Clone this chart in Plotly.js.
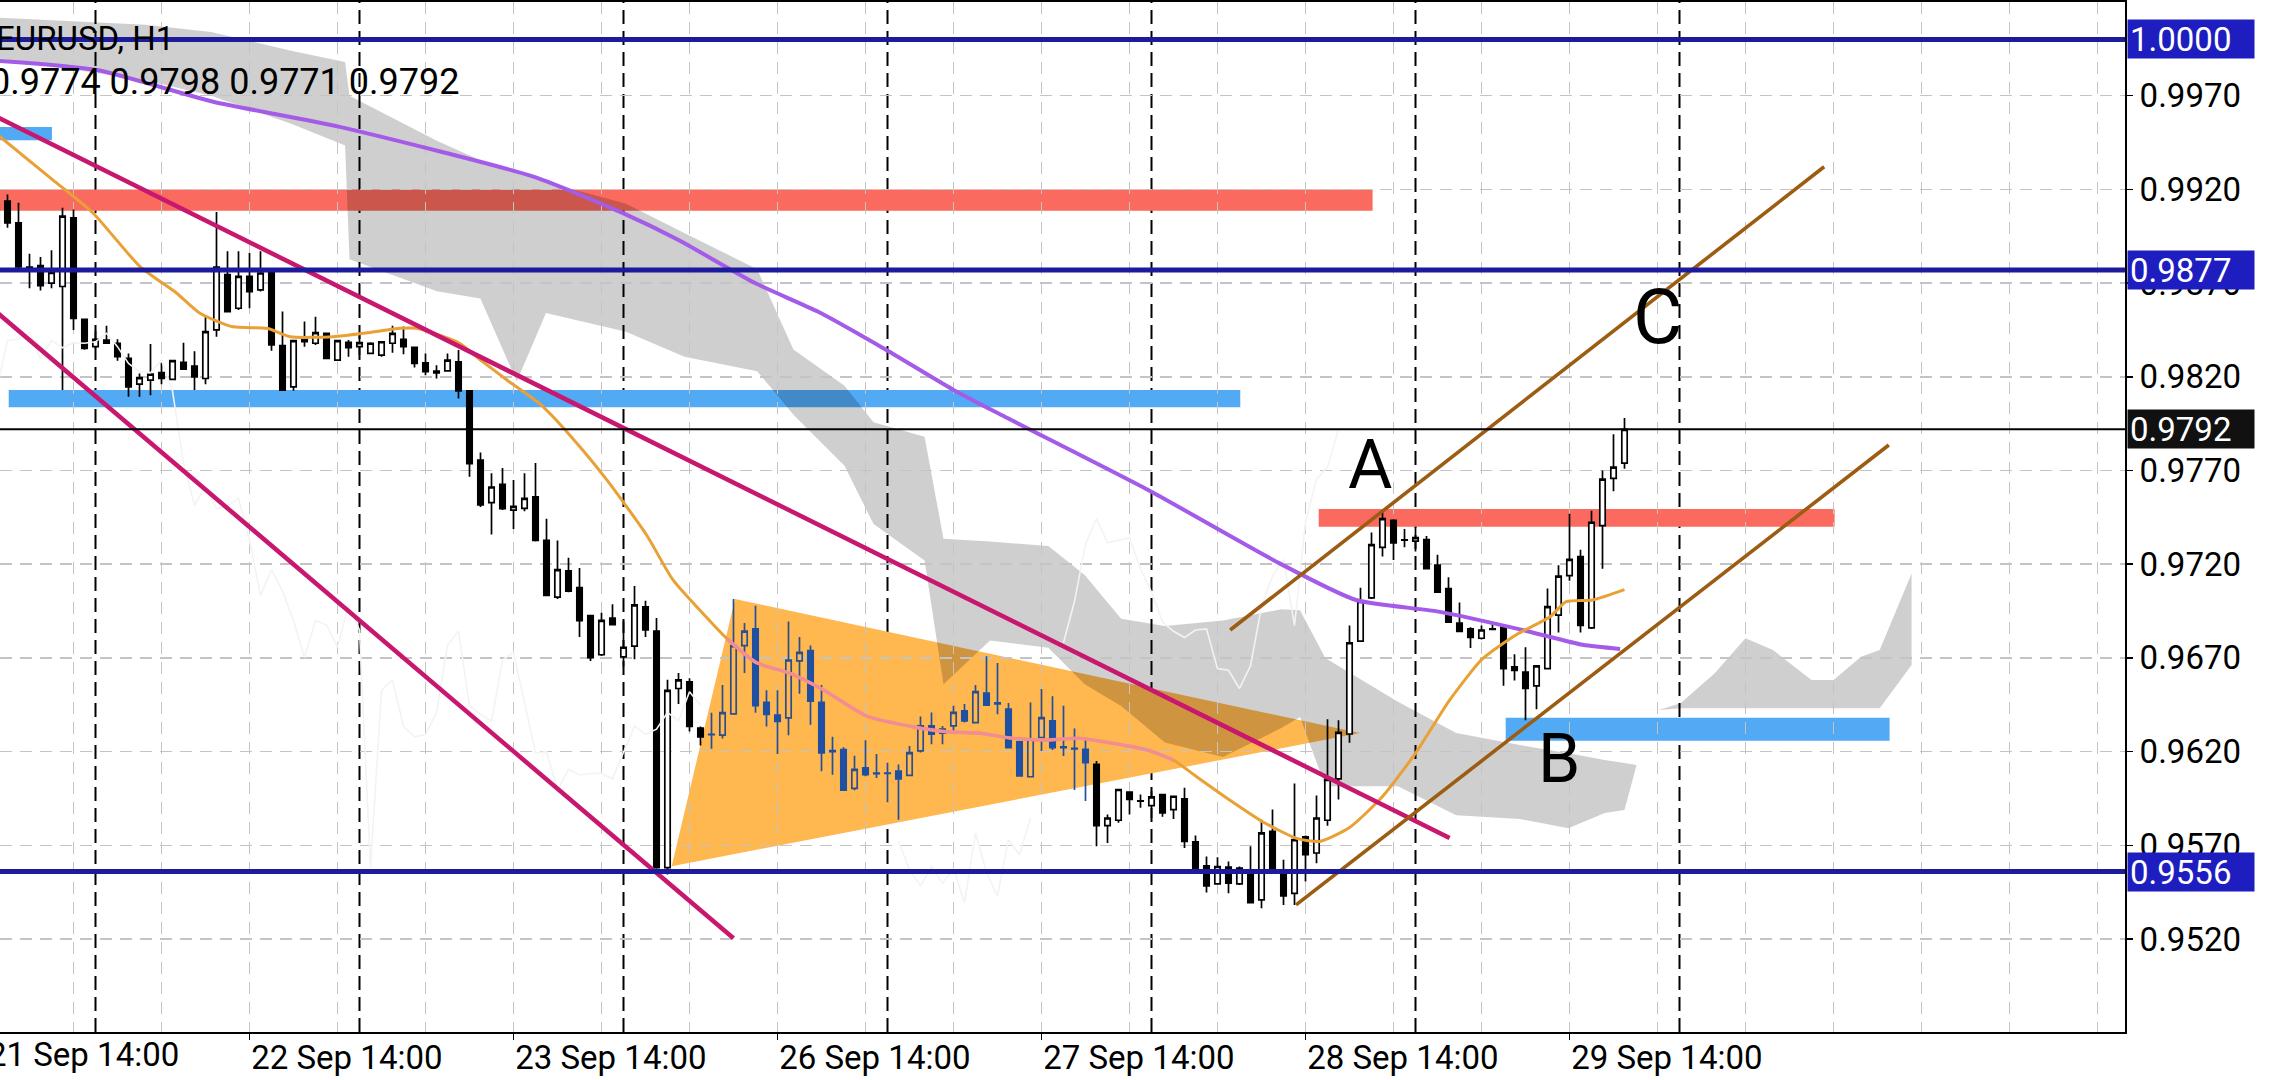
<!DOCTYPE html>
<html>
<head>
<meta charset="utf-8">
<script src="https://cdn.plot.ly/plotly-3.0.1.min.js"></script>
<style>
html, body { margin:0; padding:0; background:#ffffff; overflow:hidden; }
#chart { width:2283px; height:1080px; }
</style>
</head>
<body>
<div id="chart"></div>
<script>
// ------------------------------------------------------------------ data
const symbolTitle = 'EURUSD, H1';
const ohlcText = '0.9774 0.9798 0.9771 0.9792';
const firstBar = -9;   // bar index of first candle (bar 0 = 22 Sep 00:00, hourly bars)
const chikouShift = 26; // lagging span is drawn this many bars back

const open = [
0.99129,0.99138,0.99021,0.98786,0.98793,0.98700,0.98682,0.99048,0.98507,
0.98361,0.98396,0.98379,0.98298,0.98161,0.98182,0.98223,0.98186,0.98277,0.98257,
0.98191,0.98450,0.98745,0.98566,0.98736,0.98664,0.98768,0.98366,0.98146,0.98387,
0.98379,0.98432,0.98289,0.98384,0.98361,0.98325,0.98316,0.98379,0.98400,0.98357,
0.98275,0.98230,0.98232,0.98280,0.98125,0.97755,0.97529,0.97626,0.97489,0.97498,
0.97560,0.97327,0.97024,0.97165,0.97075,0.96926,0.96717,0.96913,0.96706,0.96763,
0.96972,0.96843,0.95581,0.96537,0.96573,0.96325,0.96292,0.96288,0.96402,0.96766,
0.96855,0.96463,0.96395,0.96380,0.96684,0.96739,0.96463,0.96206,0.96211,0.96004,
0.96114,0.96086,0.96086,0.96096,0.96073,0.96204,0.96337,0.96298,0.96337,0.96418,
0.96355,0.96512,0.96460,0.96427,0.96252,0.96066,0.96275,0.96364,0.96225,0.96218,
0.96212,0.96132,0.95805,0.95834,0.95984,0.95938,0.95912,0.95971,0.95891,0.95948,
0.95718,0.95591,0.95494,0.95584,0.95494,0.95569,0.95409,0.95775,0.95569,0.95444,
0.95745,0.95659,0.95834,0.96055,0.96294,0.96790,0.97020,0.97290,0.97434,0.97330,
0.97323,0.97332,0.97195,0.97070,0.96886,0.96855,0.96805,0.96852,0.96864,0.96652,
0.96625,0.96551,0.96643,0.96928,0.97139,0.97241,0.96860,0.97406,0.97658,0.9774];
const high = [
0.99160,0.99173,0.99129,0.98857,0.98839,0.98875,0.99102,0.99093,0.98510,
0.98446,0.98473,0.98400,0.98325,0.98218,0.98375,0.98275,0.98289,0.98382,0.98337,
0.98530,0.99080,0.98870,0.98870,0.98861,0.98870,0.98775,0.98548,0.98396,0.98495,
0.98521,0.98436,0.98396,0.98396,0.98423,0.98384,0.98387,0.98473,0.98468,0.98361,
0.98325,0.98262,0.98325,0.98343,0.98130,0.97796,0.97685,0.97713,0.97649,0.97685,
0.97740,0.97443,0.97327,0.97235,0.97180,0.96930,0.96941,0.96987,0.96895,0.97084,
0.97005,0.96913,0.96583,0.96619,0.96592,0.96334,0.96408,0.96555,0.97014,0.96886,
0.96978,0.96527,0.96527,0.96895,0.96812,0.96766,0.96555,0.96279,0.96224,0.96178,
0.96261,0.96187,0.96141,0.96132,0.96230,0.96387,0.96409,0.96337,0.96445,0.96454,
0.96555,0.96709,0.96673,0.96459,0.96258,0.96462,0.96534,0.96495,0.96445,0.96323,
0.96262,0.96150,0.95864,0.96002,0.95989,0.95971,0.95989,0.95975,0.95966,0.96007,
0.95752,0.95641,0.95637,0.95614,0.95587,0.95695,0.95837,0.95891,0.95623,0.96030,
0.95752,0.95966,0.96373,0.96367,0.96873,0.97075,0.97369,0.97479,0.97440,0.97388,
0.97397,0.97351,0.97250,0.97130,0.96996,0.96864,0.96873,0.96891,0.96868,0.96720,
0.96757,0.96662,0.97070,0.97195,0.97470,0.97277,0.97485,0.97700,0.97893,0.9798];
const low = [
0.98985,0.98995,0.98780,0.98673,0.98661,0.98673,0.98129,0.98450,0.98345,
0.98352,0.98379,0.98286,0.98093,0.98093,0.98102,0.98161,0.98182,0.98241,0.98129,
0.98161,0.98414,0.98548,0.98557,0.98566,0.98655,0.98339,0.98125,0.98125,0.98361,
0.98370,0.98298,0.98289,0.98307,0.98316,0.98321,0.98307,0.98329,0.98321,0.98250,
0.98209,0.98191,0.98227,0.98084,0.97667,0.97505,0.97358,0.97490,0.97388,0.97483,
0.97321,0.97030,0.97014,0.97050,0.96812,0.96684,0.96710,0.96873,0.96656,0.96693,
0.96812,0.95575,0.95544,0.96454,0.96307,0.96233,0.96215,0.96270,0.96400,0.96619,
0.96408,0.96334,0.96187,0.96288,0.96509,0.96344,0.96095,0.96077,0.95990,0.95994,
0.96068,0.96059,0.95930,0.95837,0.96070,0.96195,0.96239,0.96239,0.96311,0.96355,
0.96352,0.96448,0.96400,0.96221,0.96070,0.96066,0.96204,0.96209,0.96177,0.95995,
0.95936,0.95695,0.95712,0.95820,0.95864,0.95900,0.95846,0.95852,0.95841,0.95686,
0.95565,0.95448,0.95490,0.95444,0.95489,0.95390,0.95364,0.95552,0.95382,0.95382,
0.95507,0.95605,0.95805,0.95945,0.96248,0.96790,0.97014,0.97241,0.97222,0.97290,
0.97268,0.97176,0.97051,0.96891,0.96842,0.96753,0.96799,0.96848,0.96551,0.96579,
0.96367,0.96426,0.96643,0.96836,0.97112,0.96836,0.96855,0.97176,0.97590,0.9771];
const close = [
0.99000,0.99021,0.98786,0.98780,0.98686,0.98757,0.99057,0.98512,0.98352,
0.98400,0.98379,0.98307,0.98146,0.98196,0.98214,0.98191,0.98286,0.98241,0.98200,
0.98441,0.98786,0.98548,0.98736,0.98655,0.98754,0.98370,0.98129,0.98393,0.98400,
0.98436,0.98298,0.98393,0.98355,0.98382,0.98379,0.98387,0.98432,0.98361,0.98271,
0.98227,0.98221,0.98289,0.98125,0.97737,0.97516,0.97612,0.97496,0.97509,0.97551,
0.97327,0.97033,0.97171,0.97057,0.96899,0.96702,0.96900,0.96877,0.96757,0.96983,
0.96849,0.95581,0.96527,0.96583,0.96334,0.96279,0.96290,0.96408,0.96766,0.96843,
0.96445,0.96399,0.96362,0.96689,0.96730,0.96469,0.96193,0.96200,0.95994,0.96105,
0.96077,0.96083,0.96084,0.96055,0.96195,0.96337,0.96293,0.96320,0.96409,0.96364,
0.96520,0.96448,0.96455,0.96221,0.96070,0.96266,0.96382,0.96221,0.96221,0.96214,
0.96141,0.95805,0.95846,0.95998,0.95945,0.95936,0.95959,0.95873,0.95962,0.95721,
0.95569,0.95484,0.95587,0.95498,0.95578,0.95394,0.95766,0.95555,0.95430,0.95730,
0.95650,0.95846,0.96052,0.96303,0.96781,0.97002,0.97305,0.97443,0.97314,0.97328,
0.97342,0.97176,0.97051,0.96891,0.96842,0.96809,0.96849,0.96855,0.96643,0.96634,
0.96537,0.96658,0.96974,0.97136,0.97226,0.96873,0.97424,0.97654,0.97718,0.9792];

// slow moving average (purple)
const maSlowBar = [-9,0.14,10.7,22.1,39.8,48.0,53.0,60.0,65.7,71.9,78.0,82.9,95.7,107.6,114.6,122.1,130.1,135.2,138.6];
const maSlowVal = [0.99887,0.99837,0.99668,0.99535,0.99268,0.99072,0.98930,0.98699,0.98547,0.98343,0.98130,0.97980,0.97596,0.97206,0.97009,0.96947,0.96844,0.96770,0.96748];
// fast moving average (orange)
const maFastBar = [-9,-3.86,-0.23,4.05,7.38,9.5,12.5,15.6,17.7,21.6,24.7,27.7,29.2,33.1,35.0,37.4,40.4,43.4,46.5,50.1,52.5,55.6,57.4,60.1,63.1,66.2,70.1,74.3,77.4,80.4,83.4,86.5,89.5,92.5,95.6,98.0,100.1,103.1,106.1,109.2,111.3,114.0,117.0,120.1,123.1,126.1,129.2,132.2,133.7,136.1,139.0];
const maFastVal = [0.99496,0.99250,0.99074,0.98788,0.98646,0.98539,0.98467,0.98459,0.98414,0.98414,0.98435,0.98459,0.98459,0.98379,0.98290,0.98183,0.98055,0.97870,0.97649,0.97356,0.97116,0.96913,0.96803,0.96674,0.96619,0.96529,0.96390,0.96333,0.96306,0.96298,0.96271,0.96262,0.96271,0.96244,0.96209,0.96155,0.96066,0.95942,0.95826,0.95737,0.95721,0.95795,0.95960,0.96200,0.96475,0.96696,0.96825,0.96918,0.97000,0.97009,0.97064];

// ichimoku cloud (upper / lower edge)
const cloudBar   = [-9,4.55,10.51,17.79,22.69,23.09,31.03,34.99,38.30,40.95,48.23,53.53,60.15,63.45,68.09,70.73,75.37,77.09,81.32,86.62,89.93,93.24,97.21,102.5,107.8,109.5,111.8,118.4,123.7,129.5,133.9,137.2,139.0,140.1,142.1,144.1,147.2,150.0,152.5,156.0,158.0,160.5,162.2,165.1];
const cloudUpper = [1.00117,1.00079,1.00040,0.99940,0.99880,0.99700,0.99460,0.99356,0.99294,0.99240,0.99123,0.98968,0.98774,0.98346,0.98152,0.97958,0.97880,0.97336,0.97321,0.97297,0.97142,0.96909,0.96870,0.96900,0.96960,0.96954,0.96700,0.96466,0.96300,0.96235,0.96192,0.96155,0.96140,0.96129,0.96422,0.96458,0.96618,0.96805,0.96742,0.96582,0.96582,0.96706,0.96742,0.97151];
const cloudLower = [0.99900,0.99783,0.99700,0.99550,0.99434,0.98828,0.98657,0.98618,0.98175,0.98541,0.98440,0.98307,0.98230,0.97997,0.97725,0.97414,0.97220,0.96559,0.96793,0.96754,0.96559,0.96443,0.96249,0.96171,0.96326,0.96385,0.96015,0.96015,0.95860,0.95840,0.95791,0.95873,0.95889,0.96129,0.96422,0.96431,0.96431,0.96431,0.96431,0.96431,0.96431,0.96431,0.96431,0.96662];

// horizontal zones
const redZoneStart = [-10, 111.2];
const redZoneEnd   = [116.1, 158.1];
const redZoneLow   = [0.99086, 0.97400];
const redZoneHigh  = [0.99200, 0.97495];
const blueZoneStart = [-10, -7.89, 128.2];
const blueZoneEnd   = [-3.96, 104.07, 163.1];
const blueZoneLow   = [0.99462, 0.98037, 0.96258];
const blueZoneHigh  = [0.99533, 0.98130, 0.96381];

// triangle
const triangleBar = [52.38, 58.14, 114.95];
const trianglePrice = [0.95589, 0.97014, 0.96299];

// trend lines (start bar, start price, end bar, end price)
const magentaStartBar = [-10, -10];
const magentaStartPrice = [0.99617, 0.98596];
const magentaEndBar = [123.1, 58.0];
const magentaEndPrice = [0.95739, 0.95204];
const channelStartBar = [103.15, 109.14];
const channelStartPrice = [0.96849, 0.95382];
const channelEndBar = [157.15, 163.03];
const channelEndPrice = [0.99321, 0.97836];

// horizontal levels
const levelPrices = [1.0000, 0.9877, 0.9556];
const lastPrice = 0.9792;

// wave labels
const waveText = ['A', 'B', 'C'];
const waveBar = [115.9, 133.0, 142.0];
const wavePrice = [0.97729, 0.96161, 0.98521];
const waveSize = [68, 68, 76];

// axes
const priceTicks = [0.9520,0.9570,0.9620,0.9670,0.9720,0.9770,0.9820,0.9870,0.9920,0.9970];
const timeTickBar = [-10, 14, 38, 62, 86, 110, 134];
const timeTickText = ['21 Sep 14:00','22 Sep 14:00','23 Sep 14:00','26 Sep 14:00','27 Sep 14:00','28 Sep 14:00','29 Sep 14:00'];
const daySeparatorBar = [0, 24, 48, 72, 96, 120, 144];

// ------------------------------------------------------------------ styling
const FONT = 'Roboto, "Open Sans", sans-serif';
const xRange = [-8.682, 184.5];
const yRange = [0.94704, 1.00200];
const NAVY = '#1B1B9C', NAVYBOX = '#1E1EC0';

const bars = open.map((_, k) => firstBar + k);

function cross(ax, ay, bx, by, cx, cy) { return (bx - ax) * (cy - ay) - (by - ay) * (cx - ax); }
function inTriangle(px, py) {
  const [x0, x1, x2] = triangleBar, [y0, y1, y2] = trianglePrice;
  const s = 10000;
  const d1 = cross(x0, y0*s, x1, y1*s, px, py*s);
  const d2 = cross(x1, y1*s, x2, y2*s, px, py*s);
  const d3 = cross(x2, y2*s, x0, y0*s, px, py*s);
  const neg = d1 < 0 || d2 < 0 || d3 < 0, pos = d1 > 0 || d2 > 0 || d3 > 0;
  return !(neg && pos);
}
const inside = bars.map((b, k) => inTriangle(b, (open[k] + close[k]) / 2));
const sel = (arr, flag) => arr.filter((_, k) => inside[k] === flag);

const traces = [];
traces.push({
  type: 'candlestick', x: sel(bars, false), open: sel(open, false), high: sel(high, false),
  low: sel(low, false), close: sel(close, false), whiskerwidth: 0, hoverinfo: 'skip', showlegend: false,
  increasing: { line: { color: '#000000', width: 1.7 }, fillcolor: '#ffffff' },
  decreasing: { line: { color: '#000000', width: 1.7 }, fillcolor: '#000000' }
});
traces.push({
  type: 'candlestick', x: sel(bars, true), open: sel(open, true), high: sel(high, true),
  low: sel(low, true), close: sel(close, true), whiskerwidth: 0, hoverinfo: 'skip', showlegend: false,
  increasing: { line: { color: '#2B4E8C', width: 1.7 }, fillcolor: 'rgba(0,0,0,0)' },
  decreasing: { line: { color: '#1F50A2', width: 1.7 }, fillcolor: '#1F50A2' }
});

// lagging span (white; hidden where it runs under the triangle object)
const chikouX = bars.map(b => b - chikouShift);
const chikouY = close.map((c, k) => inTriangle(chikouX[k], c) ? null : c);
traces.push({ type: 'scatter', mode: 'lines', x: chikouX, y: chikouY, connectgaps: false, line: { color: '#F3F3F3', width: 1.6 }, hoverinfo: 'skip', showlegend: false });

// moving averages
traces.push({ type: 'scatter', mode: 'lines', x: maSlowBar, y: maSlowVal, line: { color: '#A35BE8', width: 4, shape: 'spline', smoothing: 0.6 }, hoverinfo: 'skip', showlegend: false });
traces.push({ type: 'scatter', mode: 'lines', x: maFastBar, y: maFastVal, line: { color: '#E9A035', width: 3, shape: 'spline', smoothing: 0.6 }, hoverinfo: 'skip', showlegend: false });
const pinkIdx = maFastBar.map((b, k) => k).filter(k => inTriangle(maFastBar[k], maFastVal[k]));
traces.push({ type: 'scatter', mode: 'lines', x: pinkIdx.map(k => maFastBar[k]), y: pinkIdx.map(k => maFastVal[k]), line: { color: '#F28C96', width: 3.4, shape: 'spline', smoothing: 0.6 }, hoverinfo: 'skip', showlegend: false });

// trend lines
magentaStartBar.forEach((b, k) => traces.push({ type: 'scatter', mode: 'lines', x: [b, magentaEndBar[k]], y: [magentaStartPrice[k], magentaEndPrice[k]], line: { color: '#C8176F', width: 4.5 }, hoverinfo: 'skip', showlegend: false }));
channelStartBar.forEach((b, k) => traces.push({ type: 'scatter', mode: 'lines', x: [b, channelEndBar[k]], y: [channelStartPrice[k], channelEndPrice[k]], line: { color: '#9C5C12', width: 3.6 }, hoverinfo: 'skip', showlegend: false }));

// ------------------------------------------------------------------ shapes
const shapes = [];
redZoneStart.forEach((x0, k) => shapes.push({ type: 'rect', xref: 'x', yref: 'y', x0: x0, x1: redZoneEnd[k], y0: redZoneLow[k], y1: redZoneHigh[k], fillcolor: '#FA6A5E', line: { width: 0 }, layer: 'below' }));
blueZoneStart.forEach((x0, k) => shapes.push({ type: 'rect', xref: 'x', yref: 'y', x0: x0, x1: blueZoneEnd[k], y0: blueZoneLow[k], y1: blueZoneHigh[k], fillcolor: '#52AAF5', line: { width: 0 }, layer: 'below' }));
shapes.push({ type: 'path', xref: 'x', yref: 'y', layer: 'below', fillcolor: '#FFB74F', line: { width: 0 },
  path: 'M ' + triangleBar.map((b, k) => b + ',' + trianglePrice[k]).join(' L ') + ' Z' });
let cloudPath = 'M ' + cloudBar.map((b, k) => b + ',' + cloudUpper[k]).join(' L ');
for (let k = cloudBar.length - 1; k >= 0; k--) cloudPath += ' L ' + cloudBar[k] + ',' + cloudLower[k];
shapes.push({ type: 'path', xref: 'x', yref: 'y', layer: 'below', fillcolor: 'rgba(0,0,0,0.19)', line: { width: 0 }, path: cloudPath + ' Z' });
daySeparatorBar.forEach(b => shapes.push({ type: 'line', xref: 'x', yref: 'paper', x0: b, x1: b, y0: 0, y1: 1, line: { color: '#000000', width: 2, dash: '14px,7px' }, layer: 'below' }));
levelPrices.forEach(p => shapes.push({ type: 'line', xref: 'paper', yref: 'y', x0: 0, x1: 1, y0: p, y1: p, line: { color: NAVY, width: 5 }, layer: 'above' }));
shapes.push({ type: 'line', xref: 'paper', yref: 'y', x0: 0, x1: 1, y0: lastPrice, y1: lastPrice, line: { color: '#000000', width: 2 }, layer: 'above' });

// ------------------------------------------------------------------ annotations
const annotations = [];
const boxStyle = (p, bg) => ({ xref: 'paper', x: 1, xanchor: 'left', xshift: 2, yref: 'y', y: p, yanchor: 'middle',
  text: p.toFixed(4), showarrow: false, bgcolor: bg, borderpad: 2, width: 122, height: 34, align: 'left',
  font: { family: FONT, size: 33, color: '#ffffff' } });
levelPrices.forEach(p => annotations.push(boxStyle(p, NAVYBOX)));
annotations.push(boxStyle(lastPrice, '#111111'));
waveText.forEach((t, k) => annotations.push({ xref: 'x', yref: 'y', x: waveBar[k], y: wavePrice[k], text: t, showarrow: false, xanchor: 'center', yanchor: 'middle', font: { family: FONT, size: waveSize[k], color: '#000000' } }));
annotations.push({ xref: 'paper', yref: 'paper', x: -6 / 2125, y: 1 - 36 / 1030, xanchor: 'left', yanchor: 'middle', text: symbolTitle, showarrow: false, font: { family: FONT, size: 33, color: '#000000' } });
annotations.push({ xref: 'paper', yref: 'paper', x: -12 / 2125, y: 1 - 80 / 1030, xanchor: 'left', yanchor: 'middle', text: ohlcText, showarrow: false, font: { family: FONT, size: 36, color: '#000000' } });
// first (clipped) time label lies left of the visible range
const fracFirst = (timeTickBar[0] - xRange[0]) / (xRange[1] - xRange[0]);
annotations.push({ xref: 'paper', yref: 'paper', x: fracFirst, y: 0, xanchor: 'left', yanchor: 'top', yshift: -1, text: timeTickText[0], showarrow: false, font: { family: FONT, size: 33, color: '#000000' } });

const GRID = '#C4C4C4';
const layout = {
  width: 2283, height: 1080,
  margin: { l: 0, r: 158, t: 2, b: 48, pad: 0 },
  paper_bgcolor: '#ffffff', plot_bgcolor: '#ffffff',
  showlegend: false, hovermode: false, dragmode: false,
  font: { family: FONT, size: 33, color: '#000000' },
  xaxis: {
    type: 'linear', range: xRange, autorange: false, fixedrange: true,
    rangeslider: { visible: false },
    tickmode: 'array', tickvals: timeTickBar.slice(1), ticktext: timeTickText.slice(1),
    ticklabelposition: 'outside right', ticklabelstandoff: -5,
    ticks: 'outside', ticklen: 6, tickwidth: 1.5, tickcolor: '#000000',
    tickfont: { family: FONT, size: 33, color: '#000000' },
    showgrid: true, gridcolor: GRID, gridwidth: 1.5, griddash: '12px,8px',
    minor: { tickmode: 'linear', tick0: 14, dtick: 8, showgrid: true, gridcolor: GRID, gridwidth: 1.5, griddash: '12px,8px', ticks: '' },
    showline: true, linecolor: '#000000', linewidth: 2, mirror: true, zeroline: false
  },
  yaxis: {
    type: 'linear', range: yRange, autorange: false, fixedrange: true, side: 'right',
    tickmode: 'array', tickvals: priceTicks, ticktext: priceTicks.map(v => v.toFixed(4)),
    ticks: 'outside', ticklen: 6, tickwidth: 1.5, tickcolor: '#000000',
    tickfont: { family: FONT, size: 33, color: '#000000' },
    showgrid: true, gridcolor: GRID, gridwidth: 1.5, griddash: '12px,8px',
    showline: true, linecolor: '#000000', linewidth: 2, zeroline: false
  },
  boxmode: 'overlay',
  shapes: shapes,
  annotations: annotations
};

Plotly.newPlot('chart', traces, layout, { staticPlot: true, displayModeBar: false });
</script>
</body>
</html>
